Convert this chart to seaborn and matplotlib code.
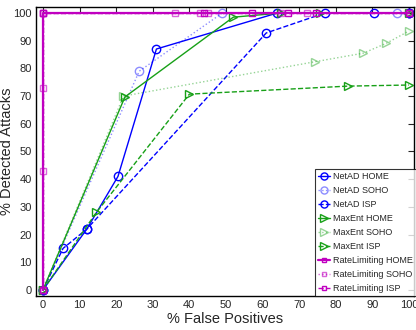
import matplotlib
matplotlib.use("Agg")
import matplotlib.pyplot as plt
import seaborn as sns

# NetAD
netad_home_x = [0, 12, 20.5, 31, 64, 90.4, 100]
netad_home_y = [0, 22, 41, 87, 100, 100, 100]
netad_soho_x = [0, 26.3, 49, 96.7, 100]
netad_soho_y = [0, 79, 100, 100, 100]
netad_isp_x = [0, 5.5, 12, 61, 77, 100]
netad_isp_y = [0, 15, 22, 92.8, 100, 100]

# MaxEnt
maxent_home_x = [0, 22.4, 52, 65, 75.7, 100]
maxent_home_y = [0, 69.7, 98.5, 100, 100, 100]
maxent_soho_x = [0, 22, 74.3, 87.5, 93.7, 100]
maxent_soho_y = [0, 70, 82.4, 85.5, 89, 93.5]
maxent_isp_x = [0, 14.6, 40, 83.3, 100]
maxent_isp_y = [0, 28, 70.7, 73.6, 74]

# RateLimiting
rate_home_x = [0, 0, 100]
rate_home_y = [0, 100, 100]
rate_soho_x = [0, 0, 0, 0, 36, 43, 45, 65, 72, 100]
rate_soho_y = [0, 43, 73, 100, 100, 100, 100, 100, 100, 100]
rate_isp_x = [0, 0, 44, 57, 67, 74.5, 100]
rate_isp_y = [0, 100, 100, 100, 100, 100, 100]

blue = "#0000ff"
green = "#17a017"
mag = "#c000c0"

series = [
    ("NetAD HOME", netad_home_x, netad_home_y, blue, "-", "o", 1.0, 1.0),
    ("NetAD SOHO", netad_soho_x, netad_soho_y, blue, ":", "o", 0.45, 1.0),
    ("NetAD ISP", netad_isp_x, netad_isp_y, blue, "--", "o", 1.0, 1.0),
    ("MaxEnt HOME", maxent_home_x, maxent_home_y, green, "-", ">", 1.0, 1.0),
    ("MaxEnt SOHO", maxent_soho_x, maxent_soho_y, green, ":", ">", 0.45, 1.0),
    ("MaxEnt ISP", maxent_isp_x, maxent_isp_y, green, "--", ">", 1.0, 1.0),
    ("RateLimiting HOME", rate_home_x, rate_home_y, mag, "-", "s", 1.0, 1.6),
    ("RateLimiting SOHO", rate_soho_x, rate_soho_y, mag, ":", "s", 0.6, 1.0),
    ("RateLimiting ISP", rate_isp_x, rate_isp_y, mag, "--", "s", 1.0, 1.0),
]

sns.set_style("white")
plt.rcParams["font.family"] = ["Liberation Sans", "DejaVu Sans"]

fig = plt.figure(figsize=(4.16, 3.3), dpi=100)
ax = fig.add_axes([0.0865, 0.103, 0.909, 0.876])

for name, xs, ys, col, ls, mk, a, lw in series:
    ms = 4 if mk == "s" else 6
    sns.lineplot(x=xs, y=ys, ax=ax, sort=False, estimator=None, color=col,
                 linestyle=ls, linewidth=lw, marker=mk, markersize=ms,
                 markerfacecolor="none", markeredgecolor=col,
                 markeredgewidth=1.0, alpha=a, label=name)

ax.set_xlim(-1.9, 101.4)
ax.set_ylim(-2.2, 102.2)
ax.set_xticks(range(0, 101, 10))
ax.set_yticks(range(0, 101, 10))
ax.tick_params(direction="in", top=True, right=True, length=4, width=0.8,
               labelsize=8, pad=3)
for s in ax.spines.values():
    s.set_color("black")
    s.set_linewidth(1.0)

ax.set_xlabel("% False Positives", fontsize=10.5, labelpad=1)
ax.set_ylabel("% Detected Attacks", fontsize=10.5)
ax.yaxis.set_label_coords(-0.058, 0.5)

leg = ax.legend(loc="lower right", bbox_to_anchor=(1.004, 0.0),
                fontsize=6.5, frameon=True, fancybox=False,
                handlelength=1.3, handletextpad=0.3, labelspacing=0.55,
                borderpad=0.35, borderaxespad=0, markerscale=0.85)
leg.get_frame().set_edgecolor("black")
leg.get_frame().set_linewidth(0.8)

fig.savefig("out.png", dpi=100)
